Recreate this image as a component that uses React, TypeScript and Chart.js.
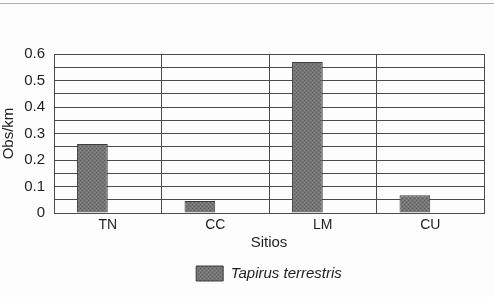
import React, { useEffect, useRef } from 'react';
import { Chart, registerables } from 'chart.js';

Chart.register(...registerables);

const categories = ['TN', 'CC', 'LM', 'CU'];
const tapirValues = [0.26, 0.045, 0.57, 0.067];
const emptySeries = [null, null, null, null];
const seriesLabel = 'Tapirus terrestris';
const xTitle = 'Sitios';
const yTitle = 'Obs/km';
const yMin = 0;
const yMax = 0.6;
const yGridStep = 0.05;

function makePattern(): CanvasPattern | string {
  const c = document.createElement('canvas');
  c.width = 4;
  c.height = 4;
  const g = c.getContext('2d');
  if (!g) return '#707070';
  g.fillStyle = '#767676';
  g.fillRect(0, 0, 4, 4);
  g.fillStyle = '#5a5a5a';
  g.fillRect(0, 0, 1, 1);
  g.fillRect(2, 2, 1, 1);
  g.fillStyle = '#8a8a8a';
  g.fillRect(2, 0, 1, 1);
  g.fillRect(0, 2, 1, 1);
  const p = g.createPattern(c, 'repeat');
  return p || '#707070';
}

export default function App() {
  const ref = useRef<HTMLCanvasElement | null>(null);

  useEffect(() => {
    document.body.style.margin = '0';
    const canvas = ref.current;
    if (!canvas) return;
    const font = 'Arial, "Liberation Sans", Helvetica, sans-serif';
    const chart = new Chart(canvas, {
      type: 'bar',
      data: {
        labels: categories,
        datasets: [
          {
            label: seriesLabel,
            data: tapirValues,
            backgroundColor: makePattern() as any,
            borderColor: '#3c3c3c',
            borderWidth: 1,
          },
          {
            label: '',
            data: emptySeries as any,
            backgroundColor: 'rgba(0,0,0,0)',
          },
        ],
      },
      options: {
        responsive: false,
        animation: false,
        events: [],
        layout: { padding: { top: 54, right: 10, bottom: 6, left: 0 } },
        datasets: {
          bar: { categoryPercentage: 2 / 3.5, barPercentage: 1 },
        },
        plugins: {
          tooltip: { enabled: false },
          title: { display: false },
          legend: {
            display: true,
            position: 'bottom',
            fullSize: false,
            labels: {
              boxWidth: 27,
              boxHeight: 15,
              padding: 10,
              color: '#1e1e1e',
              font: { family: font, size: 15, style: 'italic' },
              filter: (item: any) => item.datasetIndex === 0,
            },
          },
        },
        scales: {
          x: {
            grid: { display: true, offset: true, color: '#4a4a4a', lineWidth: 1, drawTicks: false },
            border: { display: true, color: '#4a4a4a' },
            ticks: { color: '#1e1e1e', padding: 4, font: { family: font, size: 14 } },
            title: {
              display: true,
              text: xTitle,
              color: '#1e1e1e',
              font: { family: font, size: 15 },
              padding: { top: 0, bottom: 4 },
            },
            afterFit: (s: any) => {
              s.height = 43;
            },
          },
          y: {
            min: yMin,
            max: yMax,
            grid: { color: '#4a4a4a', lineWidth: 1, drawTicks: false },
            border: { display: true, color: '#4a4a4a' },
            ticks: {
              stepSize: yGridStep,
              autoSkip: false,
              padding: 9,
              color: '#1e1e1e',
              font: { family: font, size: 15 },
              callback: (v: any) => {
                const r = Math.round(Number(v) * 100);
                if (r % 10 !== 0) return '';
                return r === 0 ? '0' : (r / 100).toFixed(1);
              },
            },
            title: {
              display: true,
              text: yTitle,
              color: '#1e1e1e',
              font: { family: font, size: 15 },
              padding: { top: 0, bottom: 0 },
            },
            afterFit: (s: any) => {
              s.width = 54;
            },
          },
        },
      },
    });
    return () => chart.destroy();
  }, []);

  return (
    <div style={{ position: 'absolute', left: 0, top: 0, width: 494, height: 297, background: '#fdfdfd' }}>
      <div style={{ position: 'absolute', left: 0, top: 3, width: 494, height: 1, background: '#b0b0b0' }} />
      <canvas ref={ref} width={494} height={297} style={{ display: 'block', width: 494, height: 297 }} />
    </div>
  );
}
